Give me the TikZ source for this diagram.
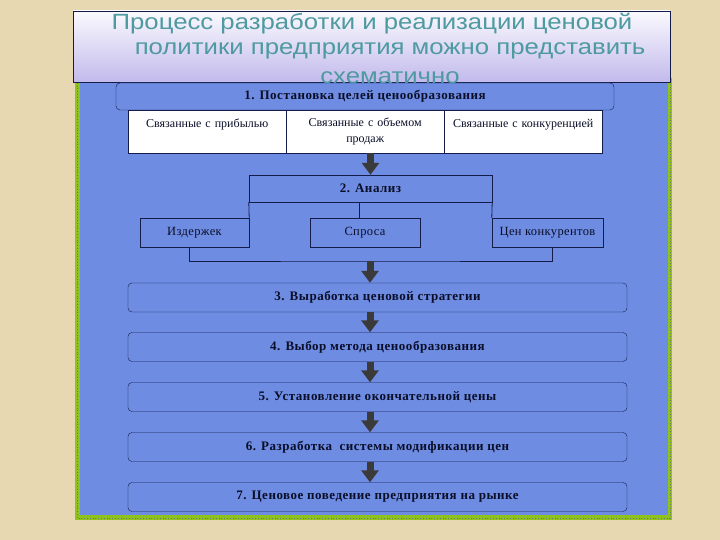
\documentclass[tikz,border=0pt]{standalone}
\usepackage{fontspec}
\setmainfont{Liberation Serif}
\newfontfamily\titlefont[FakeStretch=1.17]{Liberation Sans}
\newfontfamily\stagefont[LetterSpace=4]{Liberation Serif}
\newfontfamily\factorfont[LetterSpace=3]{Liberation Serif}
\usetikzlibrary{arrows.meta,positioning}
\definecolor{sand}{HTML}{E8D8B2}
\definecolor{panel}{HTML}{6E8CE2}
\definecolor{rim}{HTML}{8EC21E}
\definecolor{navyline}{HTML}{141C4A}
\definecolor{inktext}{HTML}{0A0E28}
\definecolor{teal}{HTML}{4E9AA0}
\definecolor{lilac}{HTML}{C2BAEC}
\definecolor{arrowgray}{HTML}{3A3A3A}

\begin{document}
\begin{tikzpicture}[x=1pt,y=-1pt,
  stagebox/.style={draw=navyline,fill=panel,rounded corners=4pt,minimum width=499pt,
    minimum height=29pt,inner sep=0pt,text=inktext,font=\stagefont\fontsize{13}{15}\selectfont\bfseries},
  goalbox/.style={draw=navyline,fill=white,minimum width=158pt,minimum height=43pt,
    text width=150pt,align=center,inner sep=0pt,text=inktext,font=\fontsize{12}{16}\selectfont},
  factorbox/.style={draw=navyline,fill=panel,minimum height=29pt,inner sep=0pt,
    text=inktext,font=\factorfont\fontsize{12.5}{14}\selectfont},
  flow/.style={arrowgray,line width=7pt,-{Triangle[length=12pt,width=17pt]}},
  tie/.style={navyline,line width=0.8pt}]
  % background and panel
  \fill[sand] (0,0) rectangle (720,540);
  \fill[rim] (75,78) rectangle (672,520);
  \fill[panel] (80,78) rectangle (668,515);
  \draw[black!55,dotted,line width=0.8pt] (77,80) -- (77,518) -- (670,518) -- (670,80);
  % title box
  \shade[top color=white!92!lilac,bottom color=lilac] (73,11) rectangle (670,82);
  \draw[navyline,line width=0.8pt] (73,11) rectangle (670,82);

  % 1. goals
  \node[stagebox,minimum width=498pt,minimum height=27pt] (goal) at (365,96.5)
    {1. Постановка целей ценообразования};
  \node[goalbox,anchor=north west] (g1) at (128,110) {Связанные с прибылью\\\mbox{}};
  \node[goalbox,anchor=north west] (g2) at (286,110) {Связанные с объемом\\продаж};
  \node[goalbox,anchor=north west] (g3) at (444,110) {Связанные с конкуренцией\\\mbox{}};

  % 2. analysis
  \node[factorbox,minimum width=243pt,minimum height=27pt,
    font=\stagefont\fontsize{13}{15}\selectfont\bfseries] (an) at (370.5,188.5) {2. Анализ};
  \node[factorbox,minimum width=109pt] (izd) at (194.5,232.5) {Издержек};
  \node[factorbox,minimum width=110pt] (spr) at (365,232.5) {Спроса};
  \node[factorbox,minimum width=111pt] (cen) at (547.5,232.5) {Цен конкурентов};
  \draw[tie] (an.south west) -- (izd.north east);
  \draw[tie] (an.south east) -- (cen.north west);
  \draw[tie] ([xshift=-6pt]spr.north) -- ([xshift=-6pt]spr.north |- an.south);
  \coordinate (jn) at (370,261);
  \draw[tie] ([xshift=-5pt]izd.south) |- (jn) -| ([xshift=5pt]cen.south);

  % 3-7. stages
  \node[stagebox] (s3) at (377.5,297.5) {3. Выработка ценовой стратегии};
  \node[stagebox] (s4) at (377.5,347) {4. Выбор метода ценообразования};
  \node[stagebox] (s5) at (377.5,397) {5. Установление окончательной цены};
  \node[stagebox] (s6) at (377.5,447) {6. Разработка\ \ системы модификации цен};
  \node[stagebox] (s7) at (377.5,497) {7. Ценовое поведение предприятия на рынке};

  % arrows
  \draw[flow] (an.north |- g2.south) -- (an.north);
  \draw[flow] (jn) -- (jn |- s3.north);
  \foreach \a/\b in {s3/s4,s4/s5,s5/s6,s6/s7}
    \draw[flow] (\a.south -| jn) -- (\b.north -| jn);

  % title text
  \begin{scope}[teal,font=\titlefont\fontsize{22}{24}\selectfont]
    \node[anchor=base] (t1) at (372,30) {Процесс разработки и реализации ценовой};
    \node[anchor=base] (t2) at (390,55) {политики предприятия можно представить};
    \node[anchor=base] (t3) at (390,84) {схематично};
  \end{scope}
\end{tikzpicture}
\end{document}
